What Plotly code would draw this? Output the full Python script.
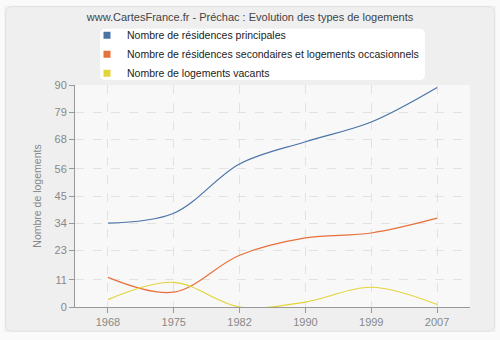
import plotly.graph_objects as go

years = ["1968", "1975", "1982", "1990", "1999", "2007"]
principales = [34, 38, 58, 67, 75, 89]
secondaires = [12, 6, 21, 28, 30, 36]
vacants = [3, 10, 0, 2, 8, 1]
y_ticks = [0, 11, 23, 34, 45, 56, 68, 79, 90]

series = [
    ("Nombre de résidences principales", principales, "#4a74a8"),
    ("Nombre de résidences secondaires et logements occasionnels", secondaires, "#e8703a"),
    ("Nombre de logements vacants", vacants, "#e3d43a"),
]

W, H = 500, 340
ML, MR, MT, MB = 75, 30, 85, 30
PW, PH = W - ML - MR, H - MT - MB


def px_x(px):
    return (px - ML) / PW


def px_y(py):
    return (H - MB - py) / PH


def rounded_path(x0, y0, x1, y1, r):
    # rounded rectangle given in pixel coordinates, emitted in paper units
    X = lambda v: f"{px_x(v):.5f}"
    Y = lambda v: f"{px_y(v):.5f}"
    return (
        f"M {X(x0 + r)},{Y(y0)} L {X(x1 - r)},{Y(y0)} Q {X(x1)},{Y(y0)} {X(x1)},{Y(y0 + r)} "
        f"L {X(x1)},{Y(y1 - r)} Q {X(x1)},{Y(y1)} {X(x1 - r)},{Y(y1)} "
        f"L {X(x0 + r)},{Y(y1)} Q {X(x0)},{Y(y1)} {X(x0)},{Y(y1 - r)} "
        f"L {X(x0)},{Y(y0 + r)} Q {X(x0)},{Y(y0)} {X(x0 + r)},{Y(y0)} Z"
    )


fig = go.Figure()
for name, vals, color in series:
    fig.add_trace(go.Scatter(
        x=years, y=vals, mode="lines", name=name, showlegend=False,
        line=dict(color=color, width=1.2, shape="spline", smoothing=1.0),
        hoverinfo="x+y",
    ))
# legend entries with square swatches
for name, vals, color in series:
    fig.add_trace(go.Scatter(
        x=[None], y=[None], mode="markers", name=name,
        marker=dict(symbol="square", size=7, color=color),
    ))

font_family = "Liberation Sans, Arial, sans-serif"

fig.update_layout(
    width=W, height=H,
    margin=dict(l=ML, r=MR, t=MT, b=MB),
    paper_bgcolor="#efefef",
    plot_bgcolor="#f8f8f8",
    font=dict(family=font_family, size=11, color="#888888"),
    title=dict(
        text="www.CartesFrance.fr - Préchac : Evolution des types de logements",
        x=0.5, xanchor="center", y=0.95, yanchor="middle",
        font=dict(size=11, color="#444444"),
    ),
    legend=dict(
        x=px_x(87), y=px_y(20), xanchor="left", yanchor="top",
        bgcolor="rgba(0,0,0,0)", borderwidth=0,
        font=dict(size=10.5, color="#222222"),
        itemwidth=30,
    ),
    xaxis=dict(
        type="category", range=[-0.5, 5.5],
        showline=True, linecolor="#999999", linewidth=1,
        ticks="outside", ticklen=5, tickcolor="#999999",
        showgrid=True, gridcolor="#e2e2e2", griddash="dash", gridwidth=1,
        tickfont=dict(size=11, color="#888888"),
        fixedrange=True,
    ),
    yaxis=dict(
        range=[0, 90], tickvals=y_ticks,
        showline=True, linecolor="#999999", linewidth=1,
        ticks="outside", ticklen=5, tickcolor="#999999",
        showgrid=True, gridcolor="#e2e2e2", griddash="dash", gridwidth=1,
        zeroline=False,
        title=dict(text="Nombre de logements", font=dict(size=10.5, color="#888888"), standoff=10),
        tickfont=dict(size=11, color="#888888"),
        fixedrange=True,
    ),
    shapes=[
        # light strip around the card
        dict(type="path", xref="paper", yref="paper",
             path=rounded_path(0, 0, W, H, 0),
             line=dict(color="#fafafa", width=9), layer="below"),
        # card border
        dict(type="path", xref="paper", yref="paper",
             path=rounded_path(5.5, 5.5, 494.5, 334.5, 7),
             line=dict(color="#e2e2e2", width=1), layer="below"),
        # legend box
        dict(type="path", xref="paper", yref="paper",
             path=rounded_path(100, 28, 425, 80, 6),
             line=dict(width=0), fillcolor="#ffffff", layer="below"),
    ],
)

fig.write_html("out.html")
